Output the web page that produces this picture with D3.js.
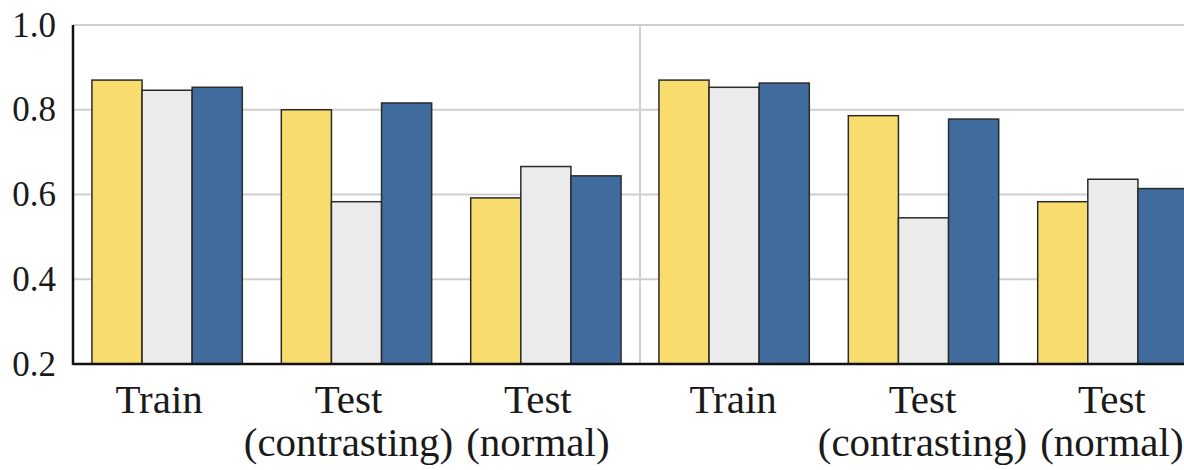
<!DOCTYPE html>
<html>
<head>
<meta charset="utf-8">
<script src="https://cdn.jsdelivr.net/npm/d3@7"></script>
<style>
  html, body { margin: 0; padding: 0; background: #fff; }
  svg { display: block; }
  svg text { font-family: "Liberation Serif", "DejaVu Serif", serif !important; }
</style>
</head>
<body>
<svg id="chart" width="1184" height="470"></svg>
<script>
// ---- data ----
const categories = ["Train", "Test|(contrasting)", "Test|(normal)"];
const panels = ["Panel 1", "Panel 2"];
const seriesNames = ["Series A", "Series B", "Series C"];
const seriesColors = ["#F9DC6E", "#EBEBEB", "#3F6C9D"];
// values per panel: [seriesA, seriesB, seriesC] per category
const panel1A = [0.870, 0.800, 0.592];
const panel1B = [0.846, 0.583, 0.666];
const panel1C = [0.853, 0.816, 0.644];
const panel2A = [0.870, 0.786, 0.583];
const panel2B = [0.853, 0.545, 0.636];
const panel2C = [0.863, 0.778, 0.614];
const yTicks = [0.2, 0.4, 0.6, 0.8, 1.0];

const panelData = [
  [panel1A, panel1B, panel1C],
  [panel2A, panel2B, panel2C]
];

// ---- layout ----
const svg = d3.select("#chart");
const W = 1184;
const mLeft = 73, mTop = 25, mBottom = 364;
const panelW = 567;
const labelShift = [-8, -1];

const y = d3.scaleLinear().domain([0.2, 1.0]).range([mBottom, mTop]);
const panelScale = d3.scaleBand().domain(panels).range([mLeft, mLeft + panelW * 2]).padding(0);

// gridlines
const grid = svg.append("g");
grid.selectAll("line.h").data(yTicks.filter(t => t > 0.2)).join("line")
  .attr("x1", mLeft).attr("x2", W)
  .attr("y1", d => y(d)).attr("y2", d => y(d))
  .attr("stroke", "#cfcfcf").attr("stroke-width", 2);
// panel divider
grid.selectAll("line.v").data(panels.slice(1)).join("line")
  .attr("x1", d => panelScale(d)).attr("x2", d => panelScale(d))
  .attr("y1", mTop).attr("y2", mBottom)
  .attr("stroke", "#cfcfcf").attr("stroke-width", 2);

// bars
panels.forEach((p, pi) => {
  const x0 = panelScale(p);
  const xCat = d3.scaleBand().domain(categories).range([x0, x0 + panelW])
    .paddingInner(0.206).paddingOuter(0.1);
  const xSer = d3.scaleBand().domain(seriesNames).range([0, xCat.bandwidth()]).padding(0);
  const g = svg.append("g");
  const rows = [];
  categories.forEach((c, ci) => {
    seriesNames.forEach((s, si) => {
      rows.push({ c, s, si, v: panelData[pi][si][ci] });
    });
  });
  g.selectAll("rect").data(rows).join("rect")
    .attr("x", d => xCat(d.c) + xSer(d.s))
    .attr("y", d => y(d.v))
    .attr("width", xSer.bandwidth())
    .attr("height", d => y(0.2) - y(d.v))
    .attr("fill", d => seriesColors[d.si])
    .attr("stroke", "#2b2b2b")
    .attr("stroke-width", 1.5);

  // category labels
  const lab = svg.append("g");
  categories.forEach(c => {
    const lines = c.split("|");
    const cx = xCat(c) + xCat.bandwidth() / 2 + labelShift[pi];
    const t = lab.append("text")
      .attr("x", cx)
      .attr("y", 413)
      .attr("text-anchor", "middle")
      .attr("font-size", 41)
      .attr("fill", "#1a1a1a");
    lines.forEach((ln, i) => {
      t.append("tspan")
        .attr("x", cx)
        .attr("dy", i === 0 ? 0 : 43)
        .text(ln);
    });
  });
});

// axes lines
svg.append("line")
  .attr("x1", mLeft).attr("x2", mLeft)
  .attr("y1", mTop).attr("y2", mBottom + 1)
  .attr("stroke", "#111").attr("stroke-width", 2.5);
svg.append("line")
  .attr("x1", mLeft).attr("x2", W)
  .attr("y1", mBottom).attr("y2", mBottom)
  .attr("stroke", "#111").attr("stroke-width", 2.5);

// y axis tick labels
const yAxis = d3.axisLeft(y).tickValues(yTicks).tickFormat(d3.format(".1f"))
  .tickSize(0).tickPadding(17);
const ya = svg.append("g").attr("transform", `translate(${mLeft},0)`).call(yAxis);
ya.select(".domain").remove();
ya.selectAll("text")
  .attr("font-size", 35)
  .attr("fill", "#1a1a1a")
  .attr("dy", "0.32em");
</script>
</body>
</html>
